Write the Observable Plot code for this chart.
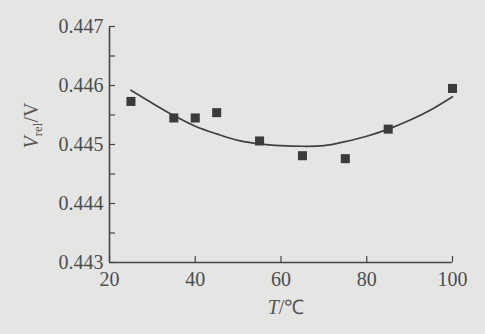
<!DOCTYPE html>
<html><head><meta charset="utf-8">
<script src="https://cdn.jsdelivr.net/npm/d3@7"></script>
<script src="https://cdn.jsdelivr.net/npm/@observablehq/plot@0.6"></script>
<style>html,body{margin:0;padding:0;background:#e5e5e3;}</style>
</head><body><div id="chart"></div>
<script>
// Measured data points
const tempC = [25, 35, 40, 45, 55, 65, 75, 85, 100];
const vref = [0.44573, 0.44545, 0.44545, 0.44554, 0.44506, 0.44481, 0.44476, 0.44526, 0.44595];
// Fitted curve
const fitT = [25, 30, 35, 40, 45, 50, 55, 60, 65, 70, 75, 80, 85, 90, 95, 100];
const fitV = [0.44592, 0.44570, 0.44549, 0.44531, 0.44518, 0.44507, 0.44501, 0.44498, 0.44497, 0.44498, 0.44505, 0.44514, 0.44526, 0.44541, 0.44559, 0.44581];
// Ticks
const xTicks = [20, 40, 60, 80, 100];
const yTicks = [0.443, 0.444, 0.445, 0.446, 0.447];
const yMinorTicks = [0.4435, 0.4445, 0.4455, 0.4465];
const xLabel = "T/℃";
const yLabel = "Vrel/V";

const points = tempC.map((t, i) => ({t, v: vref[i]}));
const fit = fitT.map((t, i) => ({t, v: fitV[i]}));

const W = 485, H = 334, ML = 109, MR = 33, MT = 26, MB = 72;
const frameW = W - ML - MR, frameH = H - MT - MB;
const ink = "#454545";

const chart = Plot.plot({
  width: W, height: H,
  marginLeft: ML, marginRight: MR, marginTop: MT, marginBottom: MB,
  style: {background: "#e5e5e3", color: "#4d4d4d", fontFamily: "'Liberation Serif', 'Times New Roman', serif", fontSize: "20px"},
  x: {domain: [20, 100]},
  y: {domain: [0.443, 0.447]},
  marks: [
    Plot.axisY({ticks: yTicks, tickSize: 0, tickPadding: 6, tickFormat: d3.format(".3f"), label: null, fill: "#4d4d4d"}),
    Plot.axisX({ticks: xTicks, tickSize: 0, tickPadding: 9, tickFormat: d3.format("d"), label: null, fill: "#4d4d4d"}),
    Plot.tickY(yTicks.concat(yMinorTicks), {y: d => d, insetRight: frameW - 6, stroke: ink, strokeWidth: 1.2}),
    Plot.tickX(xTicks, {x: d => d, insetTop: frameH - 6, stroke: ink, strokeWidth: 1.2}),
    Plot.ruleX([20], {stroke: ink, strokeWidth: 1.6}),
    Plot.ruleY([0.443], {stroke: ink, strokeWidth: 1.6}),
    Plot.line(fit, {x: "t", y: "v", stroke: "#404040", strokeWidth: 1.7, curve: "catmull-rom"}),
    Plot.dot(points, {x: "t", y: "v", symbol: "square", r: 5.1, fill: "#3b3b3b", stroke: "none"}),
    Plot.text([yLabel], {text: d => d, frameAnchor: "left", dx: -72, dy: 4, rotate: -90, lineAnchor: "bottom", fontSize: 20, fill: "#555"}),
    Plot.text([xLabel], {text: d => d, frameAnchor: "bottom", dx: 5, dy: 51, lineAnchor: "bottom", fontSize: 20, fill: "#555"})
  ]
});

const svg = d3.select(chart);
svg.selectAll("text").filter(function() { return this.textContent === yLabel; }).each(function() {
  const t = d3.select(this);
  t.text(null);
  t.append("tspan").attr("font-style", "italic").text("V");
  t.append("tspan").attr("font-size", 13).attr("dy", 4).text("rel");
  t.append("tspan").attr("dy", -4).text("/V");
});
svg.selectAll("text").filter(function() { return this.textContent === xLabel; }).each(function() {
  const t = d3.select(this);
  t.text(null);
  t.append("tspan").attr("font-style", "italic").text("T");
  t.append("tspan").text("/℃");
});
document.getElementById("chart").appendChild(chart);
</script>
</body></html>
